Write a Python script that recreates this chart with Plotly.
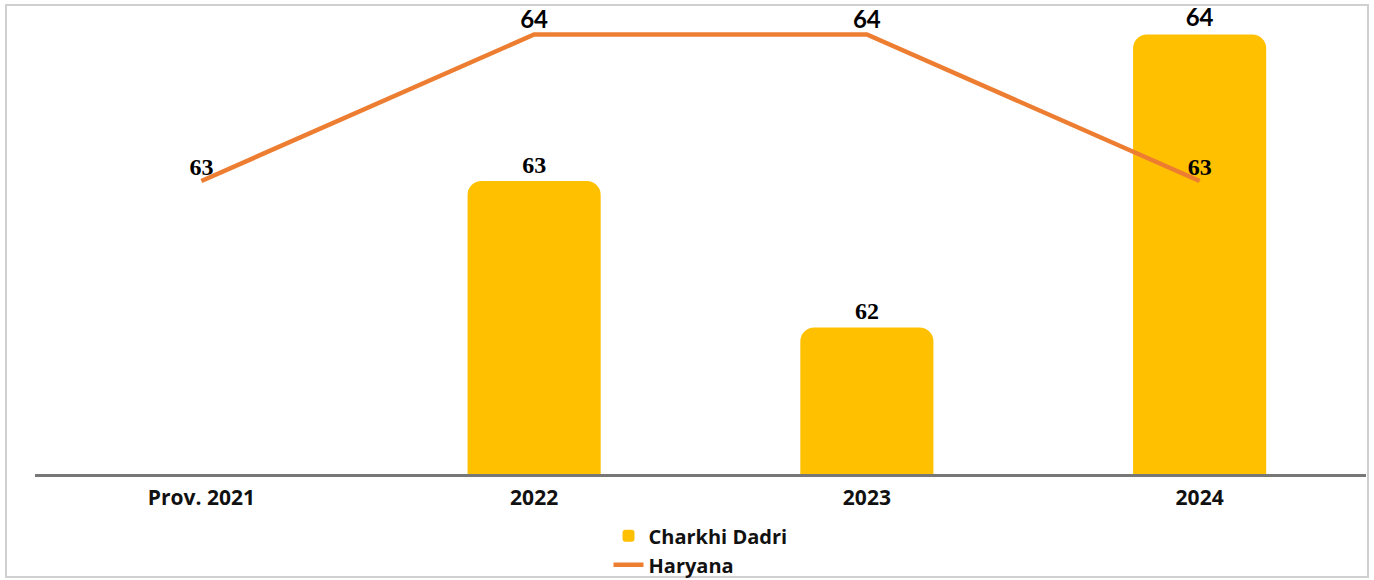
import plotly.graph_objects as go

categories = ["Prov. 2021", "2022", "2023", "2024"]
charkhi_dadri = [None, 63, 62, 64]
haryana = [63, 64, 64, 63]

SERIF = "Liberation Serif"
SANS = "Lato"

def fam(vals):
    return [SANS if v == 64 else SERIF for v in vals]

def txt(vals):
    return ["" if v is None else str(v) for v in vals]

fig = go.Figure()
fig.add_trace(go.Bar(
    x=categories, y=charkhi_dadri, name="Charkhi Dadri",
    marker=dict(color="#FFC000", line=dict(width=0)),
    width=0.4,
    text=txt(charkhi_dadri), textposition="outside",
    textfont=dict(family=fam(charkhi_dadri), size=24, color="#000000", weight="bold"),
    cliponaxis=False,
))
fig.add_trace(go.Scatter(
    x=categories, y=haryana, name="Haryana", mode="lines+text",
    line=dict(color="#ED7D31", width=4.5),
    text=txt(haryana), textposition="top center",
    textfont=dict(family=fam(haryana), size=24, color="#000000", weight="bold"),
    cliponaxis=False,
))

fig.update_layout(
    width=1374, height=580,
    margin=dict(l=35, r=8, t=10, b=106, autoexpand=False),
    paper_bgcolor="white", plot_bgcolor="white",
    barcornerradius=14,
    showlegend=True,
    legend=dict(orientation="v", x=0.5, xanchor="center", y=0.11, yanchor="top",
                yref="container", bgcolor="rgba(0,0,0,0)",
                font=dict(family="Open Sans", size=20, color="#111111", weight="bold"),
                tracegroupgap=0, itemwidth=30),
    xaxis=dict(showline=True, linecolor="#777777", linewidth=2.5, showgrid=False,
               ticks="", automargin=False,
               tickfont=dict(family="Open Sans", size=21, color="#111111", weight="bold"),
               ticklabelstandoff=3),
    yaxis=dict(range=[61, 64.167], visible=False, showgrid=False, zeroline=False,
               automargin=False),
    shapes=[dict(type="rect", xref="paper", yref="paper",
                 x0=-0.0218, x1=1.0015, y0=-0.222, y1=1.0108,
                 line=dict(color="#D0D0D0", width=2), layer="below")],
)

fig.write_html("out.html", config={"displayModeBar": False},
               post_script="document.body.style.margin='0';")
